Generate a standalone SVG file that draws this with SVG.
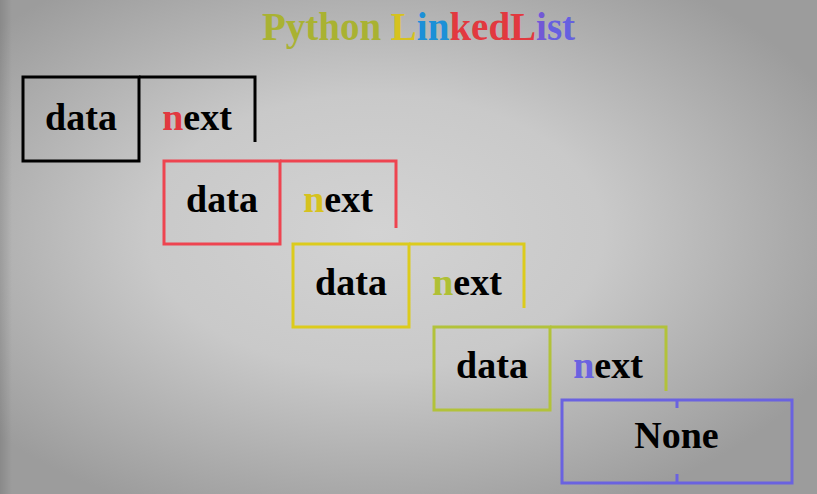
<svg xmlns="http://www.w3.org/2000/svg" width="817" height="494" viewBox="0 0 817 494">
  <defs>
    <radialGradient id="bg" cx="0.46" cy="0.47" r="0.62">
      <stop offset="0" stop-color="#d3d3d3"/>
      <stop offset="0.45" stop-color="#c9c9c9"/>
      <stop offset="1" stop-color="#9c9c9c"/>
    </radialGradient>
    <linearGradient id="edgeL" x1="0" y1="0" x2="1" y2="0">
      <stop offset="0" stop-color="#000" stop-opacity="0.12"/>
      <stop offset="1" stop-color="#000" stop-opacity="0"/>
    </linearGradient>
    <style>
      .box { fill: none; stroke-width: 3; }
      .lbl { font-family: "Liberation Serif", "Times New Roman", serif; font-weight: bold; font-size: 38px; text-anchor: middle; fill: #000; }
      .title { font-family: "Liberation Serif", "Times New Roman", serif; font-weight: bold; font-size: 39px; text-anchor: middle; }
      .k { stroke: #000; }
      .r { stroke: #ee4450; }
      .y { stroke: #dccb1c; }
      .g { stroke: #b2c23a; }
      .p { stroke: #6a62e0; }
    </style>
  </defs>
  <rect x="0" y="0" width="817" height="494" fill="url(#bg)"/>
  <rect x="0" y="0" width="12" height="494" fill="url(#edgeL)"/>

  <g id="title">
    <text class="title" x="418.5" y="40"><tspan fill="#a9b232">Python </tspan><tspan fill="#d6c21e">L</tspan><tspan fill="#1c90d8">in</tspan><tspan fill="#e2393f">kedL</tspan><tspan fill="#7258d6">i</tspan><tspan fill="#6660e0">st</tspan></text>
  </g>

  <g id="connectors"></g>

  <g id="node1">
    <rect class="box k" x="23" y="77" width="116" height="84"/>
    <path class="box k" d="M139,77 H255 V142"/>
    <text class="lbl" x="81" y="130">data</text>
    <text class="lbl" x="197" y="130"><tspan fill="#e2393f">n</tspan>ext</text>
  </g>

  <g id="node2">
    <rect class="box r" x="164" y="161" width="116" height="83"/>
    <path class="box r" d="M280,161 H396 V228"/>
    <text class="lbl" x="222" y="212">data</text>
    <text class="lbl" x="338" y="212"><tspan fill="#d6c21e">n</tspan>ext</text>
  </g>

  <g id="node3">
    <rect class="box y" x="293" y="244" width="116" height="83"/>
    <path class="box y" d="M409,244 H524 V308"/>
    <text class="lbl" x="351" y="295">data</text>
    <text class="lbl" x="467" y="295"><tspan fill="#afc034">n</tspan>ext</text>
  </g>

  <g id="node4">
    <rect class="box g" x="434" y="327" width="116" height="83"/>
    <path class="box g" d="M550,327 H666 V391"/>
    <text class="lbl" x="492" y="378">data</text>
    <text class="lbl" x="608" y="378"><tspan fill="#6a62e0">n</tspan>ext</text>
  </g>

  <g id="none">
    <rect class="box p" x="562" y="400" width="230" height="83"/>
    <path class="box p" d="M677,400 V408 M677,474 V483"/>
    <text class="lbl" x="676.5" y="448">None</text>
  </g>
</svg>
